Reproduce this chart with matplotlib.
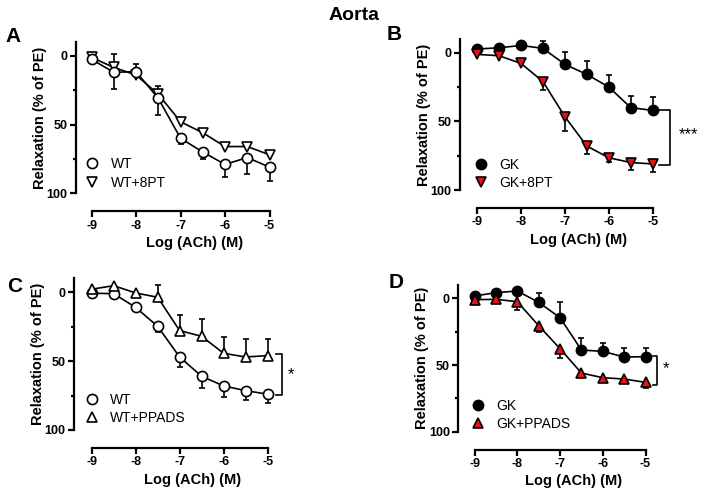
import matplotlib.pyplot as plt
from matplotlib.lines import Line2D

plt.rcParams['font.family'] = ['Liberation Sans', 'DejaVu Sans']

log_ach = [-9, -8.5, -8, -7.5, -7, -6.5, -6, -5.5, -5]
xtick_labels = ['-9', '-8', '-7', '-6', '-5']

# panel A: WT vs WT+8PT
wt_a = [2.7, 12, 11.6, 31, 60, 70, 79, 74, 81]
wt_a_err = [0, 12, 0, 12, 4, 5, 9, 12, 10]
wt8pt_a = [1.2, 8.5, 14, 28, 48, 56, 66, 66, 72]
wt8pt_a_err = [0, 10, 8, 6, 0, 0, 0, 0, 0]

# panel B: GK vs GK+8PT
gk_b = [-2.7, -3.6, -5.3, -3.2, 8.5, 15.8, 25, 40, 42]
gk_b_err = [0, 0, 0, 5, 8.7, 9.7, 8.5, 8.5, 9.5]
gk8pt_b = [1.2, 2.2, 7.8, 21, 46.6, 68, 76.5, 80, 81]
gk8pt_b_err = [0, 0, 0, 6, 10.5, 5.5, 3, 5.5, 6]

# panel C: WT vs WT+PPADS
wt_c = [0.7, 1, 11, 24.7, 47, 61, 68, 71.4, 74]
wt_c_err = [0, 0, 0, 4, 7.5, 8.5, 7.7, 6.8, 6.5]
wtppads_c = [-2.2, -4.8, 0.5, 3.6, 27.8, 32, 44.3, 47, 46]
wtppads_c_err = [0, 0, 0, 9, 11, 12.6, 12, 13, 12]

# panel D: GK vs GK+PPADS
gk_d = [-1.75, -4.25, -5.5, 3, 14.5, 38.75, 39.75, 44, 43.75]
gk_d_err = [0, 0, 0, 7, 12, 8.75, 6, 6.5, 6.5]
gkppads_d = [1, 0.75, 2.5, 20.5, 37.75, 56, 59.5, 60.5, 63]
gkppads_d_err = [0, 0, 6, 4.5, 7.25, 3.25, 2, 1.5, 4.5]

RED = '#ec0f14'


def style_axes(ax, xleft):
    ax.set_xlim(xleft, -4.0)
    ax.set_ylim(100, -10)
    ax.spines['top'].set_visible(False)
    ax.spines['right'].set_visible(False)
    ax.spines['bottom'].set_position(('outward', 13))
    ax.spines['bottom'].set_bounds(-9, -5)
    ax.spines['left'].set_bounds(-10, 100)
    for s in ('left', 'bottom'):
        ax.spines[s].set_linewidth(1.6)
    ax.set_xticks([-9, -8, -7, -6, -5])
    ax.set_xticklabels(xtick_labels, fontweight='bold', fontsize=9)
    ax.set_yticks([0, 50, 100])
    ax.set_yticklabels(['0', '50', '100'], fontweight='bold', fontsize=9)
    ax.set_yticks([25, 75], minor=True)
    ax.tick_params(axis='both', which='major', length=4, width=1.6, pad=2)
    ax.tick_params(axis='y', which='minor', length=2, width=1.6)
    ax.set_xlabel('Log (ACh) (M)', fontweight='bold', fontsize=10.5, labelpad=3)
    ax.set_ylabel('Relaxation (% of PE)', fontweight='bold', fontsize=10.5, labelpad=0)


def draw_series(ax, y, err, up, marker, face):
    yerr = [err, [0] * len(err)] if up else [[0] * len(err), err]
    ax.errorbar(log_ach, y, yerr=yerr, color='k', lw=1.2, marker=marker, ms=7.3,
                mfc=face, mec='k', mew=1.2, capsize=2.5, capthick=1.2,
                elinewidth=1.2, zorder=3)


def add_legend(ax, entries, anchor):
    handles = [Line2D([], [], ls='none', marker=m, ms=7.3, mfc=f, mec='k', mew=1.2, label=l)
               for l, m, f in entries]
    ax.legend(handles=handles, loc='lower left', bbox_to_anchor=anchor, frameon=False,
              fontsize=10, handlelength=1.0, handletextpad=0.8, labelspacing=0.3,
              borderpad=0, borderaxespad=0)


def bracket(ax, y1, y2, xline, xtick, text, xtext, ytext):
    ax.plot([xtick, xline, xline, xtick], [y1, y1, y2, y2], color='k', lw=1.2, clip_on=False)
    ax.text(xtext, ytext, text, fontsize=12, ha='center', va='center')


fig = plt.figure(figsize=(7.09, 4.93), dpi=100)

ax_a = fig.add_axes([0.1072, 0.6079, 0.3357, 0.3069])
ax_b = fig.add_axes([0.6488, 0.6146, 0.3337, 0.3063])
ax_c = fig.add_axes([0.1044, 0.1278, 0.3351, 0.3073])
ax_d = fig.add_axes([0.6464, 0.1243, 0.3244, 0.2976])

style_axes(ax_a, -9.35)
style_axes(ax_b, -9.39)
style_axes(ax_c, -9.40)
style_axes(ax_d, -9.38)

draw_series(ax_a, wt8pt_a, wt8pt_a_err, True, 'v', 'white')
draw_series(ax_a, wt_a, wt_a_err, False, 'o', 'white')
add_legend(ax_a, [('WT', 'o', 'white'), ('WT+8PT', 'v', 'white')], (0.04, 0.025))

draw_series(ax_b, gk_b, gk_b_err, True, 'o', 'black')
draw_series(ax_b, gk8pt_b, gk8pt_b_err, False, 'v', RED)
add_legend(ax_b, [('GK', 'o', 'black'), ('GK+8PT', 'v', RED)], (0.06, 0.0))
bracket(ax_b, 42, 82, -4.6, -4.85, '***', -4.18, 60)

draw_series(ax_c, wt_c, wt_c_err, False, 'o', 'white')
draw_series(ax_c, wtppads_c, wtppads_c_err, True, '^', 'white')
add_legend(ax_c, [('WT', 'o', 'white'), ('WT+PPADS', '^', 'white')], (0.045, 0.035))
bracket(ax_c, 45, 74.6, -4.68, -4.8, '*', -4.47, 60)

draw_series(ax_d, gk_d, gk_d_err, True, 'o', 'black')
draw_series(ax_d, gkppads_d, gkppads_d_err, False, '^', RED)
add_legend(ax_d, [('GK', 'o', 'black'), ('GK+PPADS', '^', RED)], (0.055, 0.005))
bracket(ax_d, 43, 64.75, -4.73, -4.83, '*', -4.53, 52.5)

for label, x, y in [('A', 13, 37), ('B', 394, 35), ('C', 15, 287), ('D', 396, 283)]:
    fig.text(x / 709, 1 - y / 493, label, fontsize=15, fontweight='bold', ha='center', va='center')

fig.text(0.5, 1 - 15 / 493, 'Aorta', fontsize=14, fontweight='bold', ha='center', va='center')

fig.savefig('out.png', dpi=100)
